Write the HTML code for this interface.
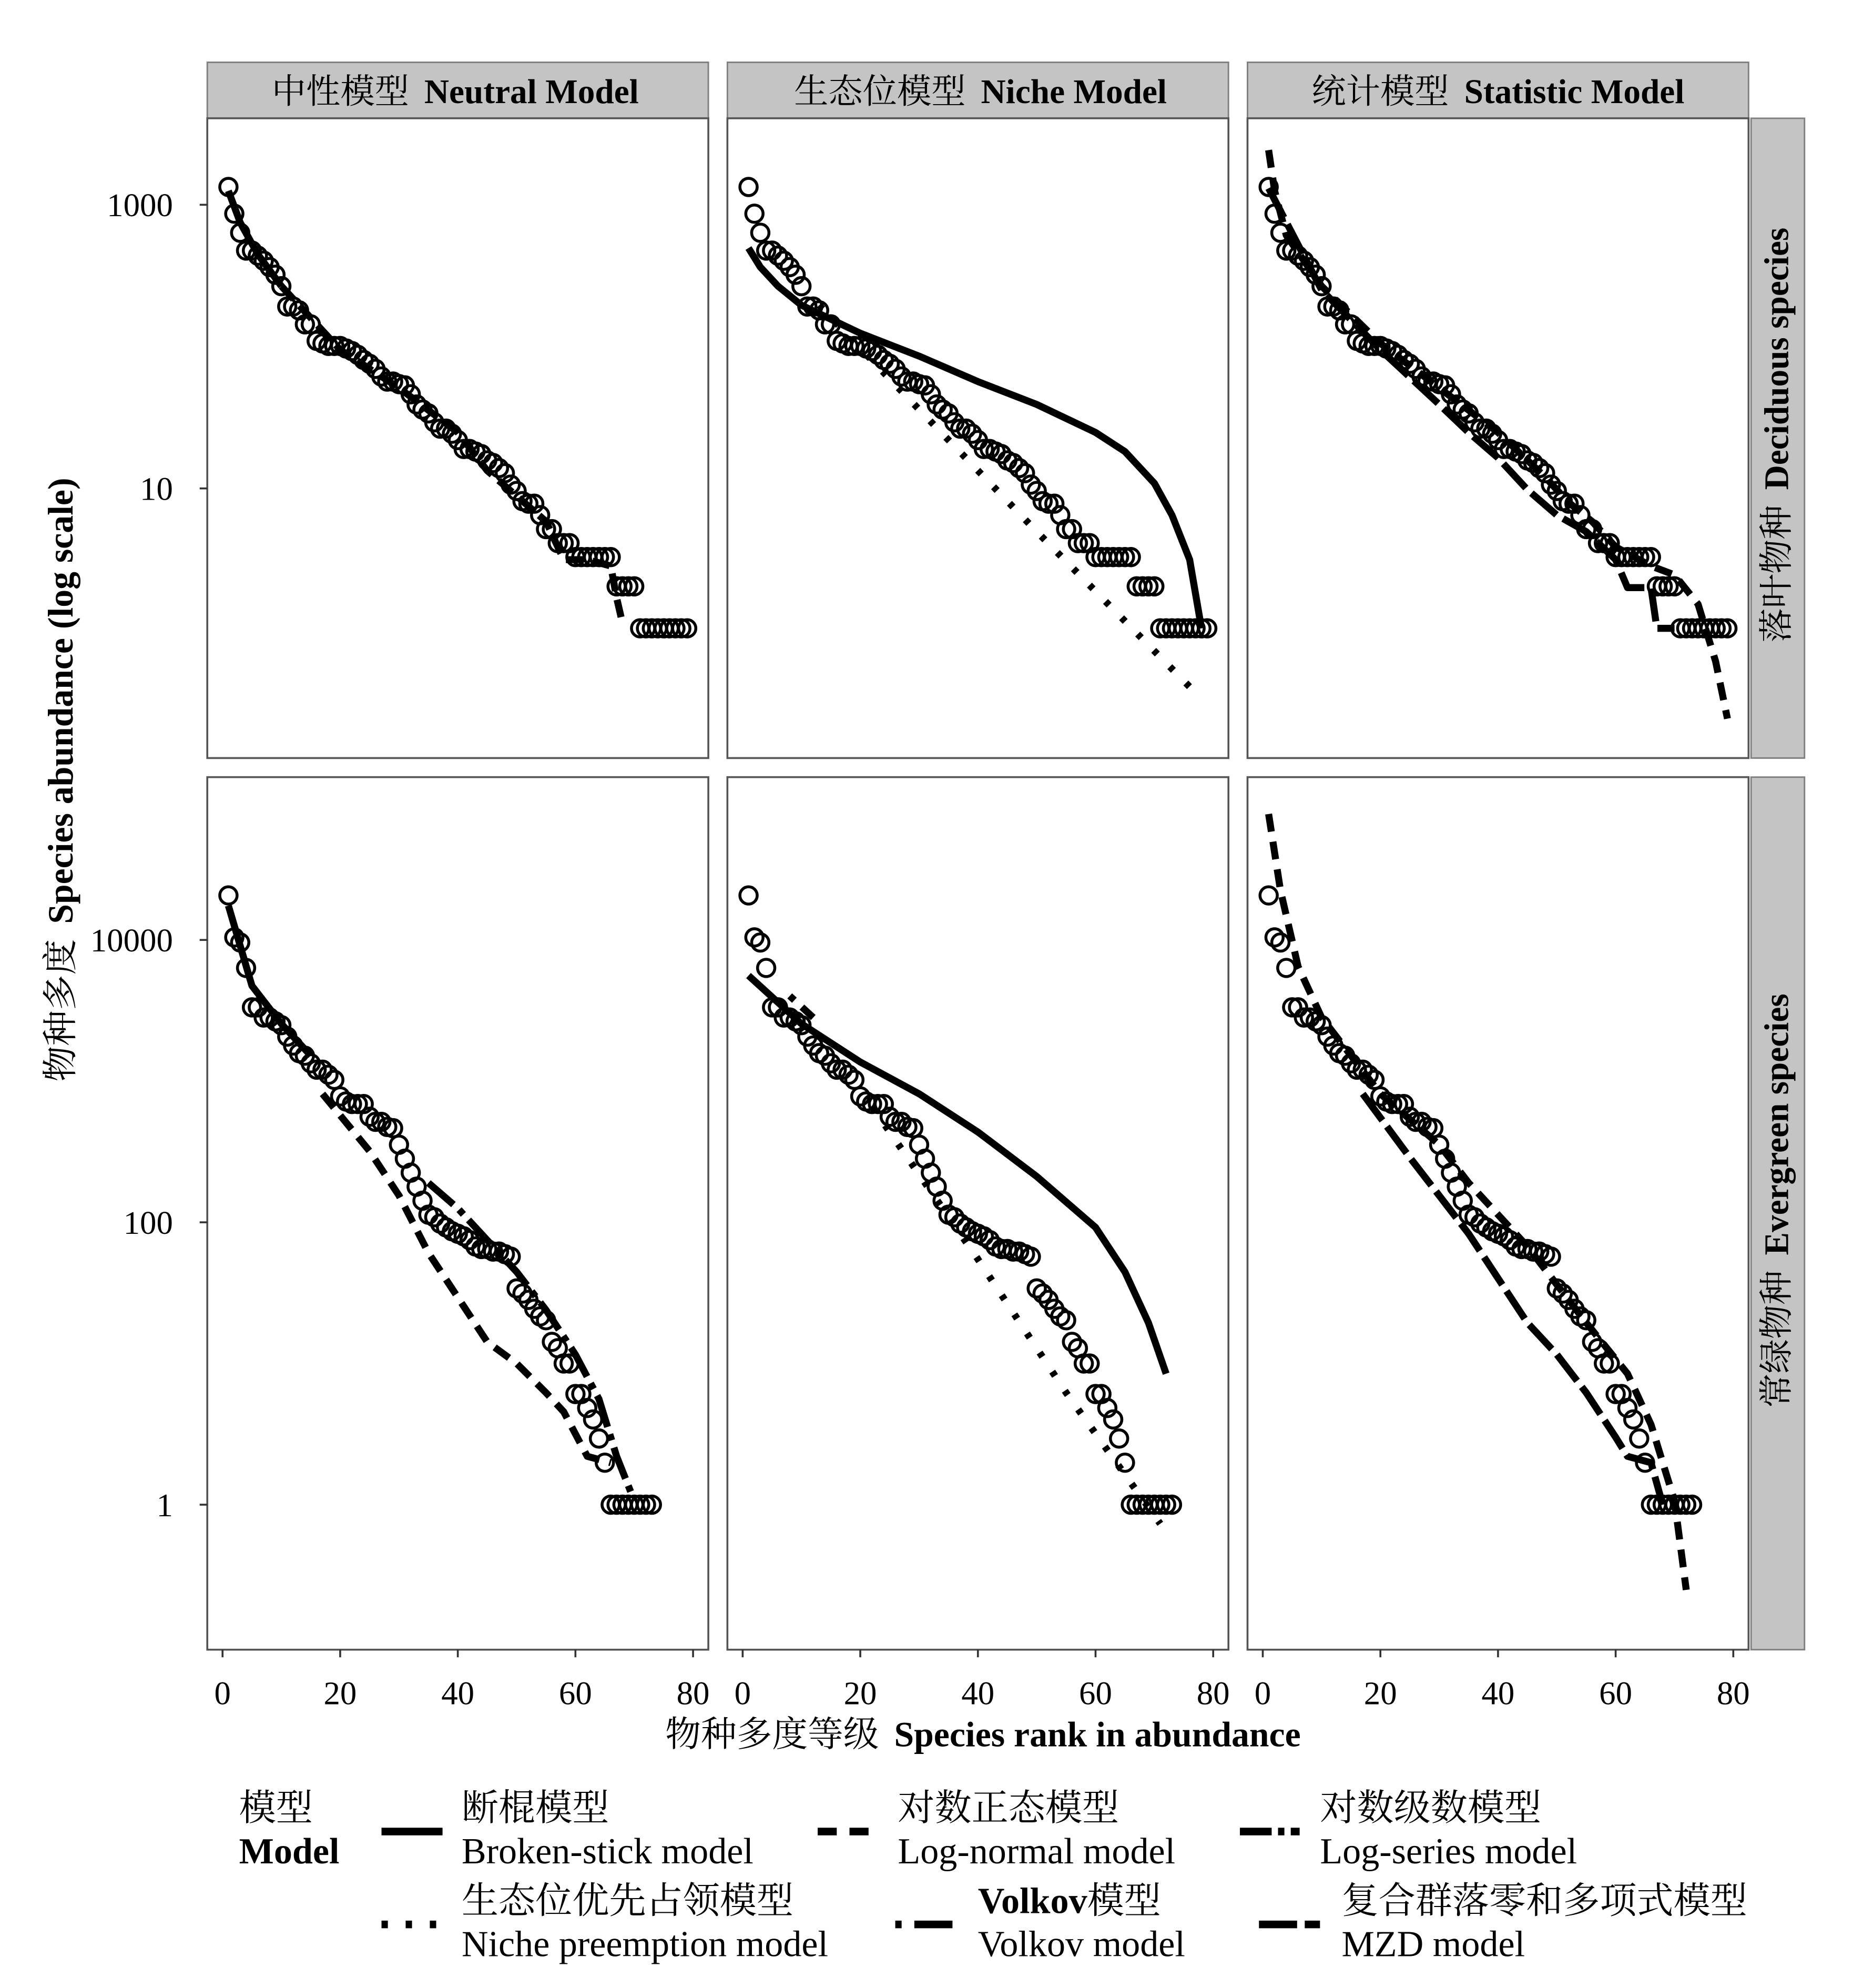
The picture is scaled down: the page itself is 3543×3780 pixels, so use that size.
<!DOCTYPE html>
<html><head><meta charset="utf-8"><style>
html,body{margin:0;padding:0;background:#fff}
svg{display:block}
text{font-family:"Liberation Serif","Noto Serif CJK SC","Noto Sans CJK SC",serif;fill:#000}
</style></head><body>
<svg id="s" xmlns="http://www.w3.org/2000/svg" width="3543" height="3780" viewBox="0 0 1465 1563">
<rect width="1465" height="1563" fill="#fff"/>
<g stroke="#7f7f7f" stroke-width="1.2" fill="#c4c4c4">
<rect x="163" y="49" width="394" height="44"/>
<rect x="572" y="49" width="394" height="44"/>
<rect x="981" y="49" width="394" height="44"/>
<rect x="1377" y="93" width="42" height="503"/>
<rect x="1377" y="611" width="42" height="686"/>
</g>
<g font-size="27" text-anchor="middle">
<text x="358" y="81">中性模型<tspan dx="12" font-weight="bold">Neutral Model</tspan></text>
<text x="771" y="81">生态位模型<tspan dx="12" font-weight="bold">Niche Model</tspan></text>
<text x="1178" y="81">统计模型<tspan dx="12" font-weight="bold">Statistic Model</tspan></text>
<text transform="translate(1406,342) rotate(-90)">落叶物种<tspan dx="12" font-weight="bold">Deciduous species</tspan></text>
<text transform="translate(1406,944) rotate(-90)">常绿物种<tspan dx="12" font-weight="bold">Evergreen species</tspan></text>
</g>
<g font-size="28" text-anchor="middle">
<text transform="translate(57,613) rotate(-90)">物种多度<tspan dx="12" font-weight="bold">Species abundance  (log scale)</tspan></text>
<text x="773" y="1373">物种多度等级<tspan dx="12" font-weight="bold">Species rank in abundance</tspan></text>
</g>
<g fill="none" stroke="#555" stroke-width="1.5">
<rect x="163" y="93" width="394" height="503"/>
<rect x="572" y="93" width="394" height="503"/>
<rect x="981" y="93" width="394" height="503"/>
<rect x="163" y="611" width="394" height="686"/>
<rect x="572" y="611" width="394" height="686"/>
<rect x="981" y="611" width="394" height="686"/>
</g>
<g font-size="26" text-anchor="end">
<text x="136" y="170">1000</text>
<text x="136" y="393">10</text>
<text x="136" y="748">10000</text>
<text x="136" y="970">100</text>
<text x="136" y="1192">1</text>
</g>
<g stroke="#333" stroke-width="1.5">
<line x1="157" y1="161" x2="163" y2="161"/><line x1="157" y1="384" x2="163" y2="384"/>
<line x1="157" y1="739" x2="163" y2="739"/><line x1="157" y1="961" x2="163" y2="961"/><line x1="157" y1="1183" x2="163" y2="1183"/>
</g>
<g id="xt" font-size="26" text-anchor="middle"></g>
<g id="data"></g>
<g font-size="29">
<text x="188" y="1431">模型</text>
<text x="188" y="1465" font-weight="bold">Model</text>
<text x="363" y="1431">断棍模型</text><text x="363" y="1465">Broken-stick model</text>
<text x="706" y="1431">对数正态模型</text><text x="706" y="1465">Log-normal model</text>
<text x="1038" y="1431">对数级数模型</text><text x="1038" y="1465">Log-series model</text>
<text x="363" y="1504">生态位优先占领模型</text><text x="363" y="1538">Niche preemption model</text>
<text x="769" y="1504"><tspan font-weight="bold">Volkov</tspan>模型</text><text x="769" y="1538">Volkov model</text>
<text x="1055" y="1504">复合群落零和多项式模型</text><text x="1055" y="1538">MZD model</text>
</g>
<g stroke="#000" stroke-width="6" fill="none">
<line x1="300" y1="1440" x2="348" y2="1440"/>
<line x1="643" y1="1440" x2="690" y2="1440" stroke-dasharray="15 10"/>
<line x1="975" y1="1440" x2="1022" y2="1440" stroke-dasharray="25 5 5 5"/>
<line x1="300" y1="1513" x2="348" y2="1513" stroke-dasharray="5 14"/>
<line x1="704" y1="1513" x2="752" y2="1513" stroke-dasharray="5 10 25 0"/>
<line x1="990" y1="1513" x2="1038" y2="1513" stroke-dasharray="30 6"/>
</g>
</svg>
<script>
var NS="http://www.w3.org/2000/svg";
var cols=[175,584,993],K=4.625;
var xt=document.getElementById('xt'),D=document.getElementById('data');
function el(t,a,p){var e=document.createElementNS(NS,t);for(var k in a)e.setAttribute(k,a[k]);(p||D).appendChild(e);return e;}
cols.forEach(function(c){[0,20,40,60,80].forEach(function(v){var x=c+v*K;
el('line',{x1:x,y1:1297,x2:x,y2:1303,stroke:'#333','stroke-width':1.5});
var t=el('text',{x:x,y:1340},xt);t.textContent=v;});});
var dec=[147,168,183,197,197,201,205,210,216,225,241,241,244,255,255,268,270,272,272,272,274,276,279,283,286,290,296,300,300,302,303,310,318,322,325,332,337,337,341,346,353,353,355,357,362,364,368,372,381,386,394,396,396,405,416,416,427,427,427,438,438,438,438,438,438,438,461,461,461,461,494,494,494,494,494,494,494,494,494];
var ev=[704,737,741,761,792,792,800,800,803,806,815,822,828,830,836,841,841,845,849,862,866,868,868,868,878,882,882,886,887,900,911,922,933,944,955,957,962,965,968,970,972,975,980,982,982,984,984,986,988,1013,1017,1022,1029,1035,1038,1055,1060,1072,1072,1096,1096,1107,1116,1131,1150,1183,1183,1183,1183,1183,1183,1183,1183];
function path(c,pts,da){var d=pts.map(function(p,i){return (i?'L':'M')+(c+p[0]*K).toFixed(1)+' '+p[1];}).join(' ');
var a={d:d,fill:'none',stroke:'#000','stroke-width':5.5,'stroke-linejoin':'round'};if(da)a['stroke-dasharray']=da;el('path',a);}
path(175,[[1,150],[3,175],[6,200],[10,225]]);
path(175,[[10,225],[20,275],[30,305],[40,340],[45,370],[50,390],[55,410],[58,440],[62,440],[66,445],[67,470],[68,490]],'14 7');
path(584,[[1,195],[3,210],[6,225],[10,240],[20,262],[30,280],[40,300],[50,318],[60,340],[65,355],[70,380],[73,405],[76,440],[78,494]]);
path(584,[[13,240],[30,322],[50,418],[76,540]],'4 14');
path(993,[[1,118],[2,150],[4,185],[10,225],[20,270],[30,305],[40,340],[48,375],[52,395],[56,410],[60,430],[66,445],[70,452],[74,475],[77,520],[79,565]],'14 8');
path(993,[[1,148],[10,228],[20,275],[30,318],[35,340],[40,360],[45,385],[50,405],[55,418],[60,440],[62,462],[66,462],[67,494],[70,494]],'26 6');
path(175,[[1,712],[5,775],[10,805],[15,830]]);
path(175,[[17,860],[25,905],[30,940],[35,985],[40,1020],[45,1055],[50,1072],[55,1095],[58,1110],[62,1145],[66,1150]],'14 8');
path(175,[[35,930],[40,950],[45,975],[50,1000],[55,1030],[60,1065],[64,1100],[67,1145],[70,1180]],'26 6 5 6');
path(584,[[1,767],[10,805],[20,835],[30,860],[40,890],[50,925],[60,965],[65,1000],[69,1040],[72,1080]]);
path(584,[[8,783],[12,800]],'5 8 20 0');
path(584,[[22,870],[40,990],[55,1095],[71,1198]],'4 14');
path(993,[[1,640],[3,700],[6,760],[10,800],[20,860],[30,900],[35,930],[45,980],[55,1040],[62,1080],[66,1120],[70,1180],[72,1250]],'14 8');
path(993,[[17,860],[25,910],[35,970],[45,1040],[50,1065],[55,1095],[60,1130],[62,1145],[66,1150],[68,1183]],'26 6');
function pts(c,arr){arr.forEach(function(y,i){el('circle',{cx:c+(i+1)*K,cy:y,r:6.8,fill:'none',stroke:'#000','stroke-width':2.3});});}
cols.forEach(function(c){pts(c,dec);pts(c,ev);});
</script>
</body></html>
